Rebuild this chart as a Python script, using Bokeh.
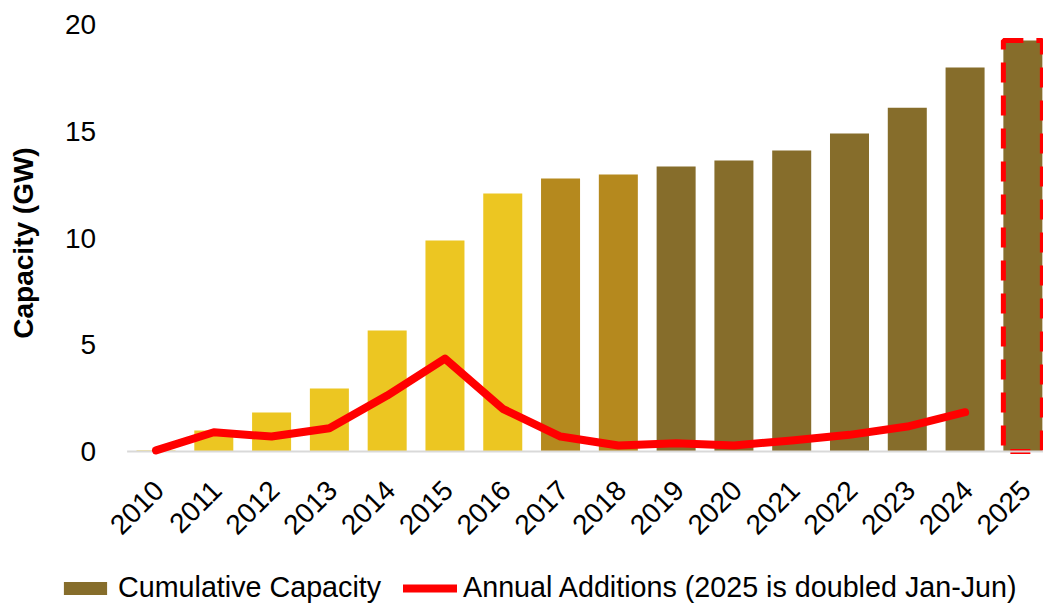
import math
from bokeh.plotting import figure
from bokeh.models import (ColumnDataSource, Legend, LegendItem, Range1d)
from bokeh.embed import file_html
from bokeh.resources import INLINE

years = ["2010", "2011", "2012", "2013", "2014", "2015", "2016", "2017",
         "2018", "2019", "2020", "2021", "2022", "2023", "2024", "2025"]
cumulative = [0.05, 0.98, 1.83, 2.95, 5.67, 9.88, 12.08, 12.79,
              12.97, 13.35, 13.63, 14.10, 14.90, 16.10, 17.99, 19.25]
annual = [0.05, 0.90, 0.70, 1.09, 2.62, 4.35, 2.00, 0.70,
          0.28, 0.39, 0.28, 0.52, 0.78, 1.17, 1.84, float("nan")]
bar_colors = ["#ECC622"] * 7 + ["#B5891E"] * 2 + ["#866D2B"] * 7
y_ticks = [0, 5, 10, 15, 20]
y_tick_labels = ["0", "5", "10", "15", "20"]
y_title = "Capacity (GW)"

xs = list(range(len(years)))

# frame covers the whole canvas; axes are drawn as text through the scales
p = figure(width=1043, height=604, output_backend="svg", toolbar_location=None,
           x_range=Range1d(-2.691, 15.357), y_range=Range1d(-7.166, 21.124),
           min_border=0, min_border_left=0, min_border_right=0,
           min_border_top=0, min_border_bottom=0)
p.outline_line_color = None
p.grid.grid_line_color = None
p.xaxis.visible = False
p.yaxis.visible = False
p.background_fill_color = "white"
p.border_fill_color = "white"

src = ColumnDataSource(dict(x=xs, top=cumulative, color=bar_colors))
bars = p.vbar(x="x", top="top", width=0.675, bottom=0, fill_color="color",
              line_color=None, source=src)

# dashed outline for the last (2025) bar
last = ColumnDataSource(dict(x=xs[-1:], top=cumulative[-1:]))
p.vbar(x="x", top="top", width=0.675, bottom=0, fill_color=None,
       line_color="#FF0000", line_width=5, line_dash="20 13", source=last)

# baseline from the left edge of the category area
p.segment(x0=[-0.5], y0=[0], x1=[len(years) - 0.5 + 1], y1=[0],
          line_color="#D9D9D9", line_width=2)

lsrc = ColumnDataSource(dict(x=xs, y=annual))
line = p.line(x="x", y="y", line_color="#FF0000", line_width=8,
              line_cap="round", line_join="round", source=lsrc)

# x tick labels (rotated)
p.text(x=xs, y=[0] * len(xs), text=years, angle=math.pi / 4,
       text_align="right", text_baseline="middle", x_offset=3, y_offset=34,
       text_font={"value": "Liberation Sans"}, text_font_size="28px",
       text_color="black")

# y tick labels
p.text(x=[-0.5] * len(y_ticks), y=y_ticks, text=y_tick_labels,
       text_align="right", text_baseline="middle", x_offset=-31,
       text_font={"value": "Liberation Sans"}, text_font_size="28px",
       text_color="black")

# y axis title
p.text(x=[-0.5], y=[y_ticks[-1] / 2], text=[y_title], angle=math.pi / 2,
       text_align="center", text_baseline="middle", x_offset=-104, y_offset=5,
       text_font={"value": "Liberation Sans"}, text_font_size="28px",
       text_font_style="bold", text_color="black")

legend = Legend(items=[LegendItem(label="Cumulative Capacity", renderers=[bars], index=15),
                       LegendItem(label="Annual Additions (2025 is doubled Jan-Jun)", renderers=[line])],
                location=(58, 0), orientation="horizontal",
                glyph_width=54, glyph_height=16, label_standoff=6, spacing=22,
                padding=0, margin=0, border_line_color=None,
                background_fill_alpha=0,
                label_text_font="Liberation Sans", label_text_font_size="28.7px",
                label_text_color="black")
p.add_layout(legend, "center")

open("out.html", "w").write(file_html(p, INLINE))
